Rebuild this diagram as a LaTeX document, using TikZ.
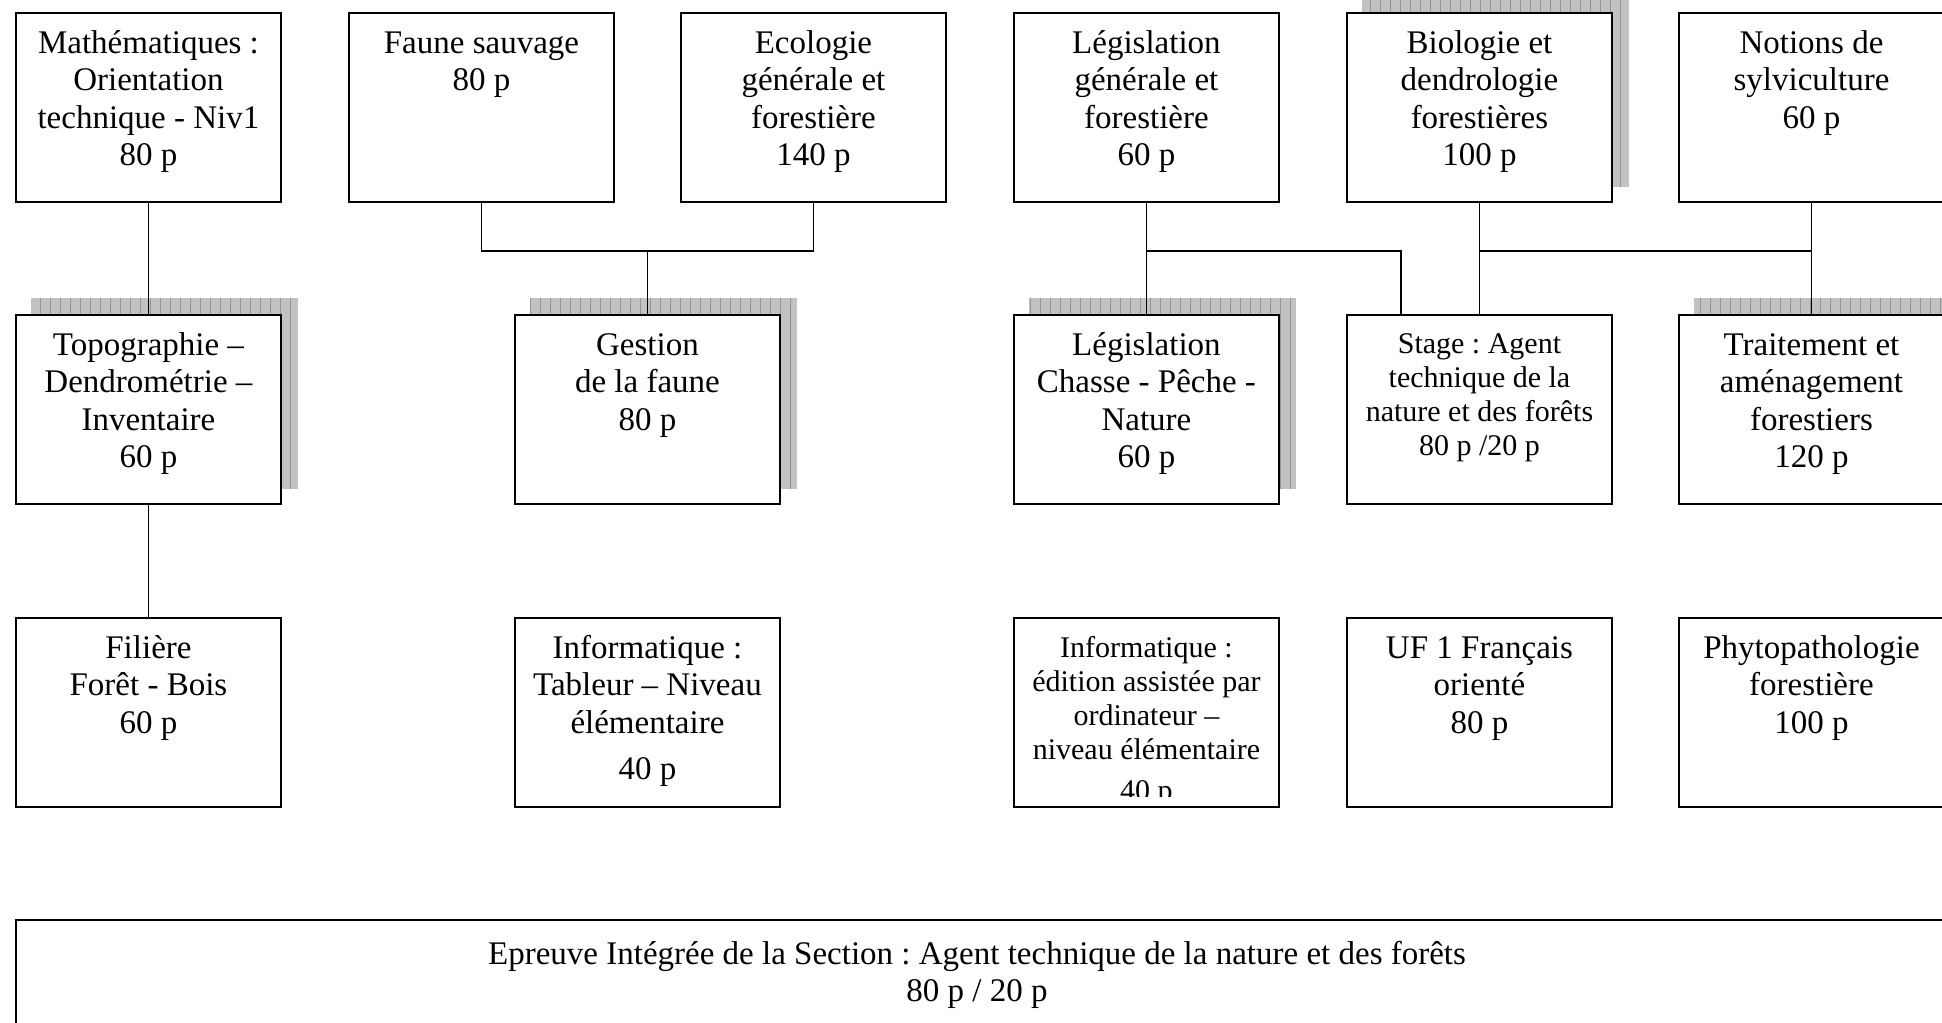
\documentclass[tikz,border=0pt]{standalone}
\usepackage{fontspec}
\setmainfont{Liberation Serif}
\usetikzlibrary{calc,backgrounds}
\frenchspacing
\newcommand\bigtxt{\fontsize{33}{37.5}\selectfont\lineskiplimit=-100pt\lineskip=0pt}
\newcommand\smalltxt{\fontsize{30}{34}\selectfont\lineskiplimit=-100pt\lineskip=0pt}
\newcommand\boxshadow[1]{%
  \fill[shadowfill] ($(#1.north west)+(16,-16)$) rectangle ($(#1.south east)+(16,-16)$);
  \draw[shadowgrid] ($(#1.north west)+(16,-16)$) grid ($(#1.south east)+(16,-16)$);}
\tikzset{
  box/.style={draw, line width=1.9, fill=white, minimum width=265, minimum height=189, inner sep=0, anchor=north west},
  txt/.style={anchor=north, inner sep=0, align=center, font=\bigtxt},
  stxt/.style={anchor=north, inner sep=0, align=center, font=\smalltxt},
  link/.style={line width=1.6},
  shadowfill/.style={fill=black!24},
  shadowgrid/.style={draw=black!42, line width=0.7, step=10},
}
\begin{document}
\begin{tikzpicture}[x=1pt,y=-1pt]
\useasboundingbox (0,0) rectangle (1942,1022);
% row 1
\node[box] (math) at (15,12) {};
\node[box] (faune) at (348,12) {};
\node[box] (eco) at (680,12) {};
\node[box] (leggen) at (1013,12) {};
\node[box] (bio) at (1346,12) {};
\node[box] (notions) at (1678,12) {};
% row 2
\node[box] (topo) at (15,314) {};
\node[box] (gestion) at (514,314) {};
\node[box] (legchasse) at (1013,314) {};
\node[box] (stage) at (1346,314) {};
\node[box] (traitement) at (1678,314) {};
% row 3
\node[box] (filiere) at (15,617) {};
\node[box] (tableur) at (514,617) {};
\node[box] (eao) at (1013,617) {};
\node[box] (uf) at (1346,617) {};
\node[box] (phyto) at (1678,617) {};
% bottom
\node[box, minimum width=1928, minimum height=200] (epreuve) at (15,919) {};

% shadows
\begin{scope}[on background layer]
\boxshadow{bio}
\boxshadow{topo}
\boxshadow{gestion}
\boxshadow{legchasse}
\boxshadow{traitement}
\end{scope}

% texts row 1
\node[txt] (mathT) at ($(math.north)+(0,9)$) {\rule{0pt}{32pt}Mathématiques :\\Orientation\\technique - Niv1\\80 p};
\node[txt] (fauneT) at ($(faune.north)+(0,9)$) {\rule{0pt}{32pt}Faune sauvage\\80 p};
\node[txt] (ecoT) at ($(eco.north)+(0,9)$) {\rule{0pt}{32pt}Ecologie\\générale et\\forestière\\140 p};
\node[txt] (leggenT) at ($(leggen.north)+(0,9)$) {\rule{0pt}{32pt}Législation\\générale et\\forestière\\60 p};
\node[txt] (bioT) at ($(bio.north)+(0,9)$) {\rule{0pt}{32pt}Biologie et\\dendrologie\\forestières\\100 p};
\node[txt] (notionsT) at ($(notions.north)+(0,9)$) {\rule{0pt}{32pt}Notions de\\sylviculture\\60 p};
% texts row 2
\node[txt] (topoT) at ($(topo.north)+(0,9)$) {\rule{0pt}{32pt}Topographie –\\Dendrométrie –\\Inventaire\\60 p};
\node[txt] (gestionT) at ($(gestion.north)+(0,9)$) {\rule{0pt}{32pt}Gestion\\de la faune\\80 p};
\node[txt] (legchasseT) at ($(legchasse.north)+(0,9)$) {\rule{0pt}{32pt}Législation\\Chasse - Pêche -\\Nature\\60 p};
\node[stxt] (stageT) at ($(stage.north)+(0,10)$) {\rule{0pt}{29pt}Stage : Agent\\technique de la\\nature et des forêts\\80 p /20 p};
\node[txt] (traitementT) at ($(traitement.north)+(0,9)$) {\rule{0pt}{32pt}Traitement et\\aménagement\\forestiers\\120 p};
% texts row 3
\node[txt] (filiereT) at ($(filiere.north)+(0,9)$) {\rule{0pt}{32pt}Filière\\Forêt - Bois\\60 p};
\node[txt] (tableurT) at ($(tableur.north)+(0,9)$) {\rule{0pt}{32pt}Informatique :\\Tableur – Niveau\\élémentaire\\[9pt]40 p};
\begin{scope}
\clip (eao.north west) rectangle ($(eao.south east)+(0,-11)$);
\node[stxt] (eaoT) at ($(eao.north)+(0,11)$) {\rule{0pt}{29pt}Informatique :\\édition assistée par\\ordinateur –\\niveau élémentaire\\[7pt]40 p};
\end{scope}
\node[txt] (ufT) at ($(uf.north)+(0,9)$) {\rule{0pt}{32pt}UF 1 Français\\orienté\\80 p};
\node[txt] (phytoT) at ($(phyto.north)+(0,9)$) {\rule{0pt}{32pt}Phytopathologie\\forestière\\100 p};
% bottom text
\node[txt] (epreuveT) at (977,932) {\rule{0pt}{32pt}Epreuve Intégrée de la Section : Agent technique de la nature et des forêts\\80 p / 20 p};

% connectors
\coordinate (hy) at (0,251);
\coordinate (stageL) at ($(stage.north west)+(55,0)$);
\draw[link] (math.south) -- (topo.north);
\draw[link] (topo.south) -- (filiere.north);
\draw[link] (faune.south) -- (faune.south |- hy) -- (eco.south |- hy) -- (eco.south);
\draw[link] (gestion.north |- hy) -- (gestion.north);
\draw[link] (leggen.south) -- (legchasse.north);
\draw[link] (leggen.south |- hy) -| (stageL);
\draw[link] (bio.south) -- (stage.north);
\draw[link] (bio.south |- hy) -| (notions.south);
\draw[link] (notions.south) -- (traitement.north);
\end{tikzpicture}
\end{document}
